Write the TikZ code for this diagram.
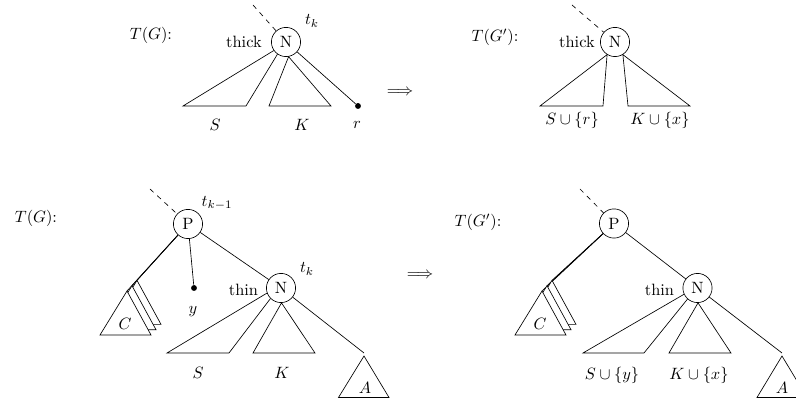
\documentclass[tikz,border=0pt]{standalone}
\begin{document}
\begin{tikzpicture}[x=0.61pt,y=-0.61pt,
  vtx/.style={circle,draw,minimum size=17.8pt,inner sep=0pt},
  lbl/.style={inner sep=0pt},
  dsh/.style={dashed},
  tri/.style={draw,fill=white,line join=miter},
  leaf/.style={circle,fill,inner sep=0pt,minimum size=3.6pt}
]
\useasboundingbox (0,0) rectangle (796,406);
\clip (0,0) rectangle (796,406);

% ---------- top left ----------
\node[lbl] (tg1) at (151,35) {$T(G)$:};
\node[vtx] (n1) at (286,42) {N};
\coordinate (d1) at (253,5);
\draw[dsh] (d1) -- (n1);
\node[lbl] (tk1) at (312,21) {$t_k$};
\node[lbl] (th1) at (244,42) {thick};
\coordinate (s1a) at (183,106); \coordinate (s1b) at (246,106);
\draw (n1.215) -- (s1a) -- (s1b) -- (n1.235);
\coordinate (k1a) at (269,106); \coordinate (k1b) at (331,106);
\draw (n1.280) -- (k1a) -- (k1b) -- cycle;
\node[leaf] (r1) at (358,106) {};
\draw (n1) -- (r1);
\node[lbl] (ls1) at (215,125) {$S$};
\node[lbl] (lk1) at (302,125) {$K$};
\node[lbl] (lr1) at (357,125) {$r$};

\node[lbl] (ar1) at (400,92) {$\Longrightarrow$};

% ---------- top right ----------
\node[lbl] (tg2) at (495,37) {$T(G')$:};
\node[vtx] (n2) at (615,42) {N};
\coordinate (d2) at (572,5);
\draw[dsh] (d2) -- (n2);
\node[lbl] (th2) at (577,42) {thick};
\coordinate (s2a) at (540,106); \coordinate (s2b) at (603,106);
\draw (n2.238) -- (s2a) -- (s2b) -- cycle;
\coordinate (k2a) at (628,106); \coordinate (k2b) at (690,106);
\draw (n2.302) -- (k2a) -- (k2b) -- cycle;
\node[lbl] (ls2) at (572,120) {$S\cup\{r\}$};
\node[lbl] (lk2) at (660,120) {$K\cup\{x\}$};

% ---------- bottom left ----------
\node[lbl] (tg3) at (36,218) {$T(G)$:};
\node[vtx] (p3) at (188,224) {P};
\coordinate (d3) at (150,189);
\draw[dsh] (d3) -- (p3);
\node[lbl] (tkm3) at (217,203) {$t_{k-1}$};
% C stack
\coordinate (c3c) at (137,280.4);
\coordinate (c3b) at (132,285.7);
\coordinate (c3a) at (127,291);
\draw (p3) -- (c3c);
\draw (p3) -- (c3b);
\draw (p3) -- (c3a);
\draw[tri] (c3c) -- (110,324.4) -- (161,324.4) -- cycle;
\draw[tri] (c3b) -- (105,329.7) -- (156,329.7) -- cycle;
\draw[tri] (c3a) -- (100,335) -- (151,335) -- cycle;
\node[lbl] (lc3) at (125,324) {$C$};
% y leaf
\node[leaf] (y3) at (194,288) {};
\draw (p3) -- (y3);
\node[lbl] (ly3) at (193,312) {$y$};
% N
\node[vtx] (n3) at (281,288) {N};
\draw (p3) -- (n3);
\node[lbl] (tk3) at (307,269) {$t_k$};
\node[lbl] (th3) at (243.5,290) {thin};
\coordinate (s3a) at (167,353); \coordinate (s3b) at (229,353);
\draw (n3.200) -- (s3a) -- (s3b) -- (n3.225);
\coordinate (k3a) at (253,353); \coordinate (k3b) at (315,353);
\draw (n3.272) -- (k3a) -- (k3b) -- cycle;
\coordinate (a3) at (364,353);
\draw (n3) -- (a3);
\draw (364,356) coordinate (a3t) -- (338.5,397.5) -- (389,397.5) -- cycle;
\node[lbl] (ls3) at (198,373) {$S$};
\node[lbl] (lk3) at (282,373) {$K$};
\node[lbl] (la3) at (365,388) {$A$};

\node[lbl] (ar2) at (420,275) {$\Longrightarrow$};

% ---------- bottom right ----------
\node[lbl] (tg4) at (478,222) {$T(G')$:};
\node[vtx] (p4) at (614,223.5) {P};
\coordinate (d4) at (580,189);
\draw[dsh] (d4) -- (p4);
\coordinate (c4c) at (552,280.4);
\coordinate (c4b) at (547,285.7);
\coordinate (c4a) at (542,291);
\draw (p4) -- (c4c);
\draw (p4) -- (c4b);
\draw (p4) -- (c4a);
\draw[tri] (c4c) -- (525,324.4) -- (576,324.4) -- cycle;
\draw[tri] (c4b) -- (520,329.7) -- (571,329.7) -- cycle;
\draw[tri] (c4a) -- (515,335) -- (566,335) -- cycle;
\node[lbl] (lc4) at (540,324) {$C$};
\node[vtx] (n4) at (697.5,288) {N};
\draw (p4) -- (n4);
\node[lbl] (th4) at (659.5,290) {thin};
\coordinate (s4a) at (583,353); \coordinate (s4b) at (644,353);
\draw (n4.205) -- (s4a) -- (s4b) -- (n4.228);
\coordinate (k4a) at (669,353); \coordinate (k4b) at (731,353);
\draw (n4.272) -- (k4a) -- (k4b) -- cycle;
\coordinate (a4) at (782,353);
\draw (n4) -- (a4);
\draw (782,356) coordinate (a4t) -- (757,397.5) -- (807,397.5) -- cycle;
\node[lbl] (ls4) at (612,375) {$S\cup\{y\}$};
\node[lbl] (lk4) at (699,375) {$K\cup\{x\}$};
\node[lbl] (la4) at (782,388) {$A$};
\end{tikzpicture}
\end{document}
